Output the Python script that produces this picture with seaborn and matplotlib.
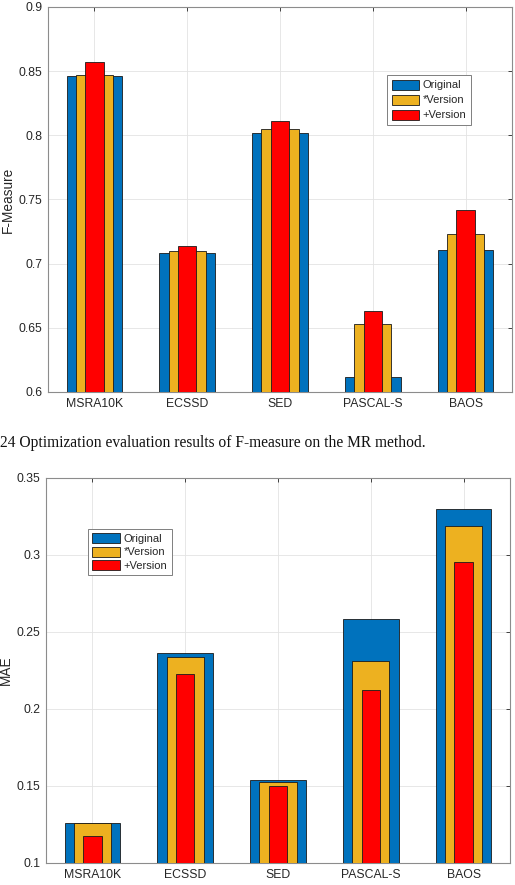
import matplotlib
matplotlib.use("Agg")
import matplotlib.pyplot as plt
import seaborn as sns
import pandas as pd
from matplotlib.patches import Patch
from matplotlib.ticker import FuncFormatter, MultipleLocator

categories = ["MSRA10K", "ECSSD", "SED", "PASCAL-S", "BAOS"]
series_names = ["Original", "*Version", "+Version"]

fm_original = [0.846, 0.708, 0.802, 0.612, 0.711]
fm_star = [0.847, 0.710, 0.805, 0.653, 0.723]
fm_plus = [0.857, 0.714, 0.811, 0.663, 0.742]

mae_original = [0.1258, 0.2362, 0.1536, 0.2587, 0.3298]
mae_star = [0.1260, 0.2336, 0.1527, 0.2314, 0.3190]
mae_plus = [0.1176, 0.2229, 0.1503, 0.2121, 0.2956]

caption = "24 Optimization evaluation results of F-measure on the MR method."

sns.set_theme(style="white")
plt.rcParams["font.family"] = ["Liberation Sans", "DejaVu Sans"]

colors = ["#0072BD", "#EDB120", "#FF0000"]
widths = [0.6, 0.4, 0.2]

fig = plt.figure(figsize=(5.15, 8.85), dpi=100)
ax1 = fig.add_axes([0.0932, 0.5571, 0.901, 0.435])
ax2 = fig.add_axes([0.0893, 0.0249, 0.901, 0.435])


def draw(ax, series, ylim, step, ylabel, legend_anchor, lspace):
    for vals, col, w, name in zip(series, colors, widths, series_names):
        df = pd.DataFrame({"cat": categories, "val": vals})
        sns.barplot(data=df, x="cat", y="val", color=col, width=w,
                    edgecolor="#1a1a1a", linewidth=0.6, saturation=1,
                    errorbar=None, ax=ax, zorder=3)
    ax.set_xlim(-0.5, len(categories) - 0.5)
    ax.set_ylim(*ylim)
    ax.yaxis.set_major_locator(MultipleLocator(step))
    ax.yaxis.set_major_formatter(FuncFormatter(lambda v, p: "%g" % round(v, 4)))
    ax.set_xlabel("")
    ax.set_ylabel(ylabel, fontsize=9.8, color="#262626")
    ax.yaxis.set_label_coords(-0.071, 0.5)
    ax.grid(True, color="#e3e3e3", linewidth=0.6)
    ax.set_axisbelow(True)
    ax.tick_params(direction="in", top=True, right=True, length=3,
                   width=0.6, colors="#262626", labelsize=8.8, pad=4)
    for sp in ax.spines.values():
        sp.set_color("#8c8c8c")
        sp.set_linewidth(0.8)
    handles = [Patch(facecolor=c, edgecolor="#1a1a1a", linewidth=0.6, label=n)
               for c, n in zip(colors, series_names)]
    leg = ax.legend(handles=handles, loc="upper left", bbox_to_anchor=legend_anchor,
                    fontsize=8, frameon=True, fancybox=False, framealpha=1,
                    edgecolor="#7f7f7f", handlelength=2.5, handleheight=1.0,
                    handletextpad=0.3, labelspacing=lspace, borderpad=0.4,
                    borderaxespad=0)
    leg.get_frame().set_linewidth(0.7)


draw(ax1, [fm_original, fm_star, fm_plus], (0.6, 0.9), 0.05, "F-Measure",
     (0.731, 0.823), 0.38)
draw(ax2, [mae_original, mae_star, mae_plus], (0.1, 0.35), 0.05, "MAE",
     (0.0905, 0.8675), 0.22)

fig.text(0.0, 1 - 443 / 885, caption, family=["Liberation Serif", "DejaVu Serif"],
         fontsize=11.2, color="#111111", va="center", ha="left")

fig.savefig("out.png", dpi=100)
